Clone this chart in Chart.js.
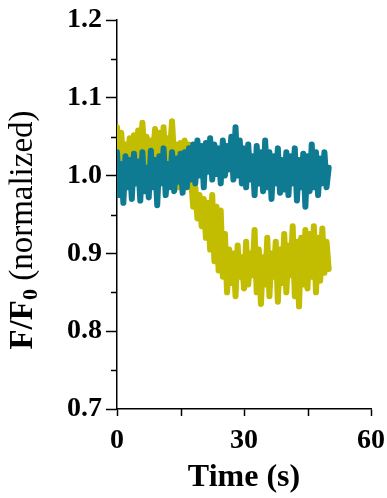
<!DOCTYPE html>
<html>
<head>
<meta charset="utf-8">
<script src="https://cdn.jsdelivr.net/npm/chart.js@4/dist/chart.umd.min.js"></script>
<style>
  html, body { margin: 0; padding: 0; background: #fff; }
  #wrap { width: 387px; height: 498px; }
</style>
</head>
<body>
<div id="wrap"><canvas id="chartFluor" width="387" height="498"></canvas></div>
<script>
// F/F0 traces, sampled every 0.5 s from 0 to 50 s
var sampleStep = 0.5;

var tealValues = [
    1.030, 0.975, 1.015, 0.965, 1.025, 0.985, 1.020, 0.970, 1.028, 0.990,
    1.018, 0.968, 1.030, 0.980, 1.010, 0.972, 1.032, 0.985, 1.020, 0.962,
    1.025, 0.990, 1.035, 0.975, 1.015, 0.985, 1.030, 0.980, 1.022, 0.992,
    1.028, 0.978, 1.030, 0.985, 1.035,
    0.995, 1.040, 0.990, 1.045, 1.000, 1.038, 0.985, 1.042, 1.005, 1.048,
    0.995, 1.040, 1.002, 1.035, 0.990, 1.045, 1.000, 1.038, 1.008, 1.050,
    0.995, 1.062, 1.000, 1.045, 0.990,
    1.035, 0.985, 1.040, 0.995, 1.025, 0.975, 1.038, 0.990, 1.030, 0.980,
    1.045, 0.985, 1.030, 0.970, 1.025, 0.990, 1.035, 0.978, 1.020, 0.982,
    1.030, 0.975, 1.025, 0.990, 1.035, 0.968, 1.020, 0.985, 1.028, 0.960,
    1.025, 0.980, 1.040, 0.985, 1.030, 0.975, 1.022, 0.990, 1.030, 0.985,
    1.010
];

var yellowValues = [
    1.062, 1.035, 1.055, 1.012, 1.040, 1.020, 1.048, 1.005, 1.052, 1.030,
    1.058, 1.018, 1.068, 1.025, 1.050, 1.010, 1.045, 1.028, 1.060, 1.015,
    1.055, 1.022, 1.062, 1.008, 1.048, 1.030, 1.070, 1.020, 1.040, 0.985,
    1.042, 0.998, 1.045, 1.005, 1.040,
    0.995, 0.960, 0.985, 0.945, 0.975, 0.935, 0.970, 0.920, 0.965, 0.905,
    0.975, 0.890, 0.960, 0.878,
    0.955, 0.870, 0.925, 0.850, 0.905, 0.862, 0.900, 0.845, 0.910, 0.870,
    0.895, 0.855, 0.915, 0.860, 0.900, 0.872, 0.930, 0.850, 0.905, 0.835,
    0.895, 0.860, 0.920, 0.845, 0.900, 0.870, 0.915, 0.838, 0.905, 0.862,
    0.925, 0.850, 0.910, 0.872, 0.935, 0.845, 0.915, 0.832, 0.920, 0.860,
    0.930, 0.855, 0.925, 0.870, 0.935, 0.850, 0.920, 0.865, 0.932, 0.875,
    0.915, 0.880
];

var xMajorTicks = [0, 30, 60];
var xMinorTicks = [15, 45];
var yMajorTicks = [0.7, 0.8, 0.9, 1.0, 1.1, 1.2];
var yMinorTicks = [0.75, 0.85, 0.95, 1.05, 1.15];

function toPoints(values) {
    return values.map(function(v, i) { return { x: i * sampleStep, y: v }; });
}

var serif = "'Liberation Serif', 'Times New Roman', serif";

// minor ticks + axis titles (subscript in F/F0 needs manual drawing)
var extrasPlugin = {
    id: 'extras',
    afterDraw: function(chart) {
        var ctx = chart.ctx;
        var xs = chart.scales.x, ys = chart.scales.y;
        ctx.save();
        ctx.strokeStyle = '#000';
        ctx.lineWidth = 1.5;
        ctx.beginPath();
        yMinorTicks.forEach(function(v) {
            var p = Math.round(ys.getPixelForValue(v)) + 0.5;
            ctx.moveTo(xs.left - 6, p);
            ctx.lineTo(xs.left, p);
        });
        xMinorTicks.forEach(function(v) {
            var p = Math.round(xs.getPixelForValue(v)) + 0.5;
            ctx.moveTo(p, ys.bottom);
            ctx.lineTo(p, ys.bottom + 7);
        });
        ctx.stroke();

        ctx.fillStyle = '#000';
        // x title
        ctx.font = 'bold 32px ' + serif;
        ctx.textAlign = 'center';
        ctx.textBaseline = 'middle';
        ctx.fillText('Time (s)', (xs.left + xs.right) / 2, 478);

        // y title, rotated
        ctx.translate(23, 230);
        ctx.rotate(-Math.PI / 2);
        ctx.textAlign = 'left';
        ctx.textBaseline = 'middle';
        var fBold = 'bold 33px ' + serif;
        var fSub = 'bold 22px ' + serif;
        var fReg = '33px ' + serif;
        ctx.font = fBold; var w1 = ctx.measureText('F/F').width;
        ctx.font = fSub; var w2 = ctx.measureText('0').width;
        ctx.font = fReg; var w3 = ctx.measureText(' (normalized)').width;
        var x0 = -(w1 + w2 + w3) / 2;
        ctx.font = fBold; ctx.fillText('F/F', x0, 0);
        ctx.font = fSub; ctx.fillText('0', x0 + w1, 8);
        ctx.font = fReg; ctx.fillText(' (normalized)', x0 + w1 + w2, 0);
        ctx.restore();
    }
};

window.addEventListener('DOMContentLoaded', function() {
    const ctx = document.getElementById('chartFluor').getContext('2d');
    new Chart(ctx, {
        type: 'line',
        data: {
            datasets: [{
                label: 'control',
                data: toPoints(tealValues),
                borderColor: '#0f7b92',
                borderWidth: 6,
                borderJoinStyle: 'round',
                borderCapStyle: 'round',
                pointRadius: 0,
                tension: 0,
                fill: false
            }, {
                label: 'treated',
                data: toPoints(yellowValues),
                borderColor: '#c2bd00',
                borderWidth: 6,
                borderJoinStyle: 'round',
                borderCapStyle: 'round',
                pointRadius: 0,
                tension: 0,
                fill: false
            }]
        },
        options: {
            responsive: false,
            animation: false,
            layout: { padding: { top: 20, right: 16, left: 0, bottom: 0 } },
            plugins: {
                legend: { display: false },
                title: { display: false },
                tooltip: { enabled: false }
            },
            scales: {
                x: {
                    type: 'linear',
                    min: 0, max: 60,
                    afterFit: function(s) { s.height = 89; s.paddingLeft = 0; s.paddingRight = 0; },
                    afterBuildTicks: function(s) { s.ticks = xMajorTicks.map(function(v) { return { value: v }; }); },
                    grid: { drawOnChartArea: false, drawTicks: true, tickLength: 7, tickColor: '#000', tickWidth: 1.5 },
                    border: { display: true, color: '#000', width: 1.5 },
                    ticks: {
                        color: '#000',
                        padding: 8,
                        maxRotation: 0,
                        font: { family: serif, size: 28, weight: 'bold' },
                        callback: function(v) { return v; }
                    }
                },
                y: {
                    min: 0.7, max: 1.2,
                    afterFit: function(s) { s.width = 117; s.paddingTop = 0; s.paddingBottom = 0; },
                    afterBuildTicks: function(s) { s.ticks = yMajorTicks.map(function(v) { return { value: v }; }); },
                    grid: { drawOnChartArea: false, drawTicks: true, tickLength: 11, tickColor: '#000', tickWidth: 1.5 },
                    border: { display: true, color: '#000', width: 1.5 },
                    ticks: {
                        color: '#000',
                        padding: 4,
                        font: { family: serif, size: 28, weight: 'bold' },
                        callback: function(v) { return v.toFixed(1); }
                    }
                }
            }
        },
        plugins: [extrasPlugin]
    });
});
</script>
</body>
</html>
